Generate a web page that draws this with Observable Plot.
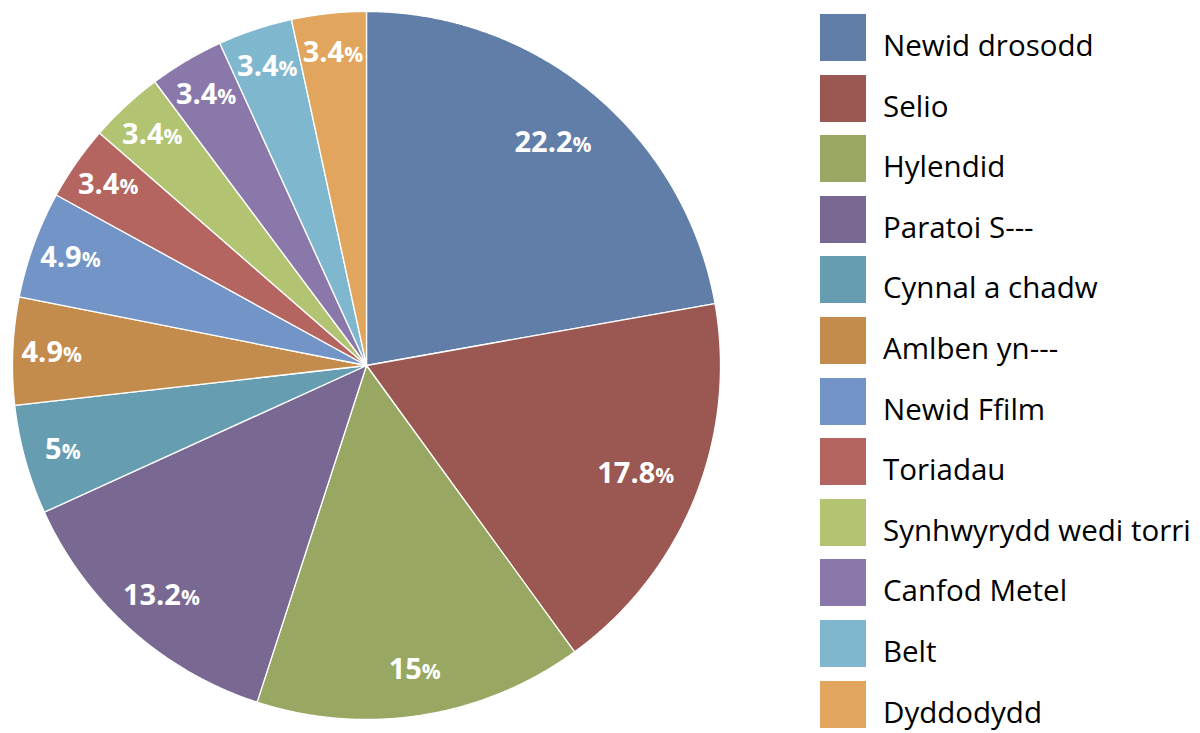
<!DOCTYPE html>
<html><head><meta charset="utf-8">
<script src="https://cdn.jsdelivr.net/npm/d3@7"></script>
<script src="https://cdn.jsdelivr.net/npm/@observablehq/plot@0.6"></script>
<style>
body{margin:0;background:#fff;font-family:"Open Sans",sans-serif}
#wrap{position:relative;width:1200px;height:733px;overflow:hidden}
#wrap svg{display:block}
.item{position:absolute;left:820px;height:47px;width:380px}
.sw{position:absolute;left:0;top:0;width:46px;height:47px}
.lab{position:absolute;left:63px;top:16px;font-size:29.5px;line-height:1;color:#000;white-space:nowrap}
</style>
</head><body><div id="wrap"></div>
<script>
const categories = ["Newid drosodd","Selio","Hylendid","Paratoi S---","Cynnal a chadw","Amlben yn---","Newid Ffilm","Toriadau","Synhwyrydd wedi torri","Canfod Metel","Belt","Dyddodydd"];
const values = [22.2, 17.8, 15, 13.2, 5, 4.9, 4.9, 3.4, 3.4, 3.4, 3.4, 3.4];
const colors = ["#607ea8","#9b5751","#98a862","#786892","#679db0","#c48c4c","#7294c6","#b5655f","#b2c372","#8b78ab","#7fb8ce","#e1a55e"];

const W = 800, H = 733, cx = 366, cy = 365, R = 354;
const arcs = d3.pie().sort(null).value(d => d)(values);

const slicePts = [];
arcs.forEach((p, i) => {
  const n = Math.max(4, Math.ceil((p.endAngle - p.startAngle) / 0.004));
  slicePts.push({cat: categories[i], x: 0, y: 0});
  for (let k = 0; k <= n; k++) {
    const a = p.startAngle + (p.endAngle - p.startAngle) * k / n;
    slicePts.push({cat: categories[i], x: Math.sin(a), y: Math.cos(a)});
  }
  slicePts.push({cat: categories[i], x: 0, y: 0});
});

const labels = arcs.map((p, i) => {
  const a = (p.startAngle + p.endAngle) / 2;
  const f = values[i] >= 17 ? 0.82 : (values[i] >= 13 ? 0.87 : 0.89);
  return {cat: categories[i], x: f * Math.sin(a), y: f * Math.cos(a), text: values[i] + "%"};
});

const plot = Plot.plot({
  width: W, height: H,
  margin: 0,
  x: {domain: [-cx / R, (W - cx) / R], axis: null},
  y: {domain: [-(H - cy) / R, cy / R], axis: null},
  color: {domain: categories, range: colors},
  marks: [
    Plot.line(slicePts, {x: "x", y: "y", z: "cat", fill: "cat", stroke: "white", strokeWidth: 1.3, curve: "linear-closed"}),
    Plot.text(labels, {x: "x", y: "y", text: "text", fill: "white", fontSize: 29, fontWeight: "bold", fontFamily: "Open Sans", className: "pct"})
  ]
});

d3.select(plot).selectAll("g.pct text").each(function() {
  const t = this.textContent;
  if (t.endsWith("%")) {
    this.textContent = t.slice(0, -1);
    d3.select(this).append("tspan").attr("font-size", 21).text("%");
  }
});

const wrap = document.getElementById("wrap");
wrap.appendChild(plot);

categories.forEach((c, i) => {
  const it = document.createElement("div");
  it.className = "item";
  it.style.top = (14 + i * 60.6) + "px";
  it.innerHTML = `<div class="sw" style="background:${colors[i]}"></div><div class="lab">${c}</div>`;
  wrap.appendChild(it);
});
</script>
</body></html>
